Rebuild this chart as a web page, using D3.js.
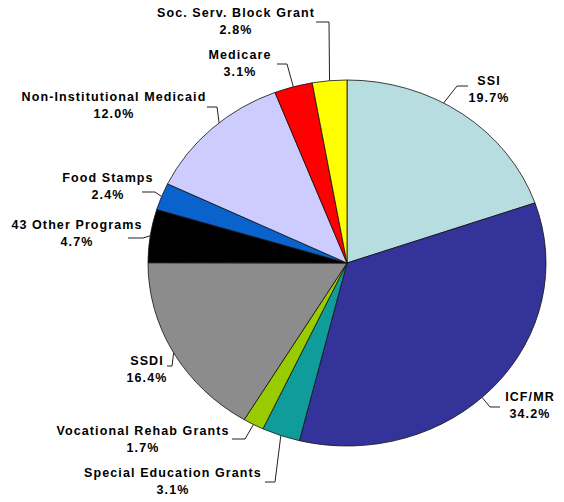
<!DOCTYPE html>
<html>
<head>
<meta charset="utf-8">
<title>Pie</title>
<style>
  body { margin: 0; background: #fff; }
  text { font-family: "Liberation Sans", Arial, sans-serif; font-weight: bold; font-size: 12.5px; letter-spacing: 1.1px; fill: #000; }
</style>
</head>
<body>
<svg width="564" height="502"></svg>
<script src="https://d3js.org/d3.v7.min.js"></script>
<script>
// slices, clockwise from 12 o'clock
var programs = ["SSI", "ICF/MR", "Special Education Grants", "Vocational Rehab Grants", "SSDI",
                "43 Other Programs", "Food Stamps", "Non-Institutional Medicaid", "Medicare", "Soc. Serv. Block Grant"]
var shares = [19.7, 34.2, 3.1, 1.7, 16.4, 4.7, 2.4, 12.0, 3.1, 2.8]
var colors = ["#b7dde0", "#333399", "#119c9c", "#99cc00", "#8c8c8c",
              "#000000", "#0a62cc", "#ccccff", "#ff0000", "#ffff00"]

// label layout: text centre / baseline, leader elbow and end, where along the slice the leader touches
var labelLayout = [
  { x: 489, y: 85,  ex: 457, ey: 86,  hx: 468, at: 0.41 },
  { x: 530, y: 401, ex: 490, ey: 407, hx: 500, at: 0.54 },
  { x: 173, y: 477, ex: 275, ey: 482, hx: 265, at: 0.5 },
  { x: 143, y: 435, ex: 245, ey: 439, hx: 232, at: 0.5 },
  { x: 147, y: 365, ex: 172, ey: 366, hx: 167, at: 0.5 },
  { x: 77,  y: 229, ex: 143, ey: 238, hx: 128, at: 0.5 },
  { x: 108, y: 182, ex: 155, ey: 192, hx: 142, at: 0.5 },
  { x: 114, y: 101, ex: 217, ey: 107, hx: 207, at: 0.565 },
  { x: 240, y: 59,  ex: 287, ey: 64,  hx: 277, at: 0.5 },
  { x: 236, y: 17,  ex: 329, ey: 22,  hx: 316, at: 0.5 }
]

var cx = 347, cy = 263, rx = 199, ry = 183

var svg = d3.select("svg")

var pie = d3.pie().sort(null).value(function (d) { return d })
var arcs = pie(shares)

var arc = d3.arc().innerRadius(0).outerRadius(ry)

// the chart is an ellipse: draw a circle and stretch it sideways
var pieGroup = svg.append("g")
  .attr("transform", "translate(" + cx + "," + cy + ") scale(" + (rx / ry) + ",1)")

pieGroup.selectAll("path")
  .data(arcs)
  .enter().append("path")
  .attr("d", arc)
  .attr("fill", function (d, i) { return colors[i] })
  .attr("stroke", "#111")
  .attr("stroke-width", 0.8)
  .attr("vector-effect", "non-scaling-stroke")

function edgePoint(d, frac) {
  var a = d.startAngle + (d.endAngle - d.startAngle) * frac
  return [cx + rx * Math.sin(a), cy - ry * Math.cos(a)]
}

// leader lines
svg.append("g").selectAll("polyline")
  .data(arcs)
  .enter().append("polyline")
  .attr("points", function (d, i) {
    var L = labelLayout[i]
    var p = edgePoint(d, L.at)
    return [p, [L.ex, L.ey], [L.hx, L.ey]].map(function (q) { return q.join(",") }).join(" ")
  })
  .attr("fill", "none")
  .attr("stroke", "#222")
  .attr("stroke-width", 1)

// labels
var labels = svg.append("g").selectAll("text")
  .data(arcs)
  .enter().append("text")
  .attr("text-anchor", "middle")

labels.append("tspan")
  .attr("x", function (d, i) { return labelLayout[i].x })
  .attr("y", function (d, i) { return labelLayout[i].y })
  .text(function (d, i) { return programs[i] })

labels.append("tspan")
  .attr("x", function (d, i) { return labelLayout[i].x })
  .attr("y", function (d, i) { return labelLayout[i].y + 17 })
  .text(function (d, i) { return shares[i].toFixed(1) + "%" })
</script>
</body>
</html>
